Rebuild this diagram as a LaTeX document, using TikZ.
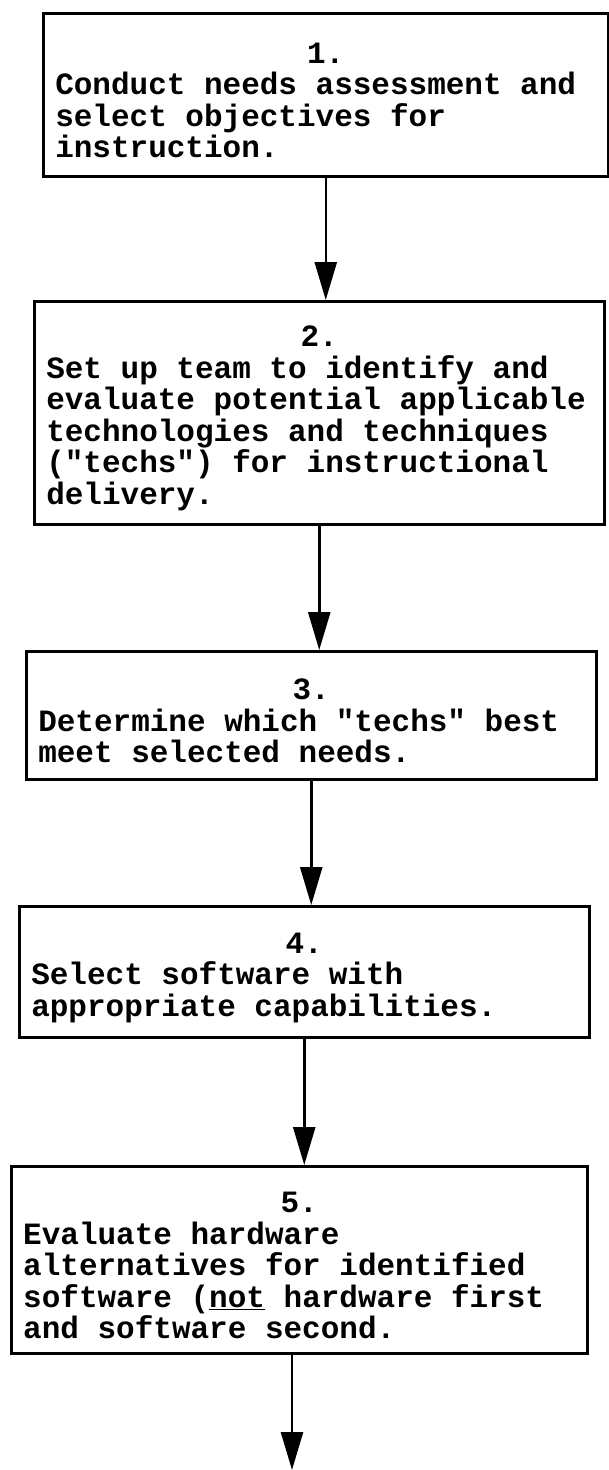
\documentclass[tikz,border=0pt]{standalone}
\usepackage{fontspec}
\usepackage{tikz}
\usetikzlibrary{arrows.meta}
\newfontfamily\typefont{Liberation Mono}
\newcommand{\stepno}[1]{\spaceskip=0.6em\xspaceskip=0.6em\makebox[\hsize]{\rule{0pt}{32pt}#1}\\}

\begin{document}
\begin{tikzpicture}[x=1pt,y=-1pt]
      \tikzstyle{stepbox}=[draw,line width=2.5pt,anchor=north west,align=left,
			      inner xsep=12pt,inner ysep=6pt,
			      font=\typefont\bfseries\fontsize{31}{31.5}\selectfont]
      \tikzstyle{flow}=[line width=2.5pt,-{Triangle[length=38pt,width=22pt]}]
      \useasboundingbox (0,0) rectangle (609,1470);
      \node (step1) [stepbox,text width=541pt,minimum height=163pt] at (42,12)
	  {\stepno{1.}Conduct needs assessment and\\ select objectives for\\ instruction.};
      \node (step2) [stepbox,text width=546pt,minimum height=223pt] at (33,300)
	  {\stepno{2.}Set up team to identify and\\ evaluate potential applicable\\
	   technologies and techniques\\ ("techs") for instructional\\ delivery.};
      \node (step3) [stepbox,text width=546pt,minimum height=128pt] at (25,650)
	  {\stepno{3.}Determine which "techs" best\\ meet selected needs.};
      \node (step4) [stepbox,text width=546pt,minimum height=131pt] at (18,905)
	  {\stepno{4.}Select software with\\ appropriate capabilities.};
      \node (step5) [stepbox,text width=552pt,minimum height=187pt] at (10,1165)
	  {\stepno{5.}Evaluate hardware\\ alternatives for identified\\
	   software (\underline{not} hardware first\\ and software second.};
      \coordinate (out) at (292,1470);
      \draw[flow] (step1.south) -- (step1.south |- step2.north);
      \draw[flow] (step2.south) -- (step2.south |- step3.north);
      \draw[flow] (step3.south) -- (step3.south |- step4.north);
      \draw[flow] (step4.south) -- (step4.south |- step5.north);
      \draw[flow] (out |- step5.south) -- (out);
  \end{tikzpicture}
\end{document}
